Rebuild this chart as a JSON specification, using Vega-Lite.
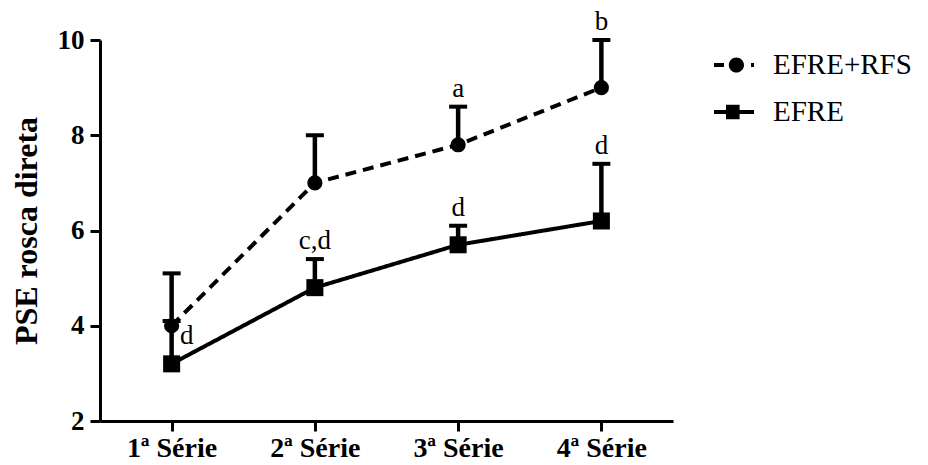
{
  "$schema": "https://vega.github.io/schema/vega-lite/v6.json",
  "autosize": "none",
  "width": 573,
  "height": 381,
  "padding": {"left": 100, "top": 40, "right": 255, "bottom": 44},
  "background": "white",
  "config": {
    "view": {"stroke": null},
    "legend": {"labelFont": "Liberation Serif"},
    "axis": {
      "grid": false,
      "domainColor": "black",
      "domainWidth": 3,
      "tickColor": "black",
      "tickWidth": 3,
      "tickSize": 10,
      "labelColor": "black",
      "labelFont": "Liberation Serif",
      "labelFontWeight": "bold",
      "titleColor": "black",
      "titleFont": "Liberation Serif",
      "titleFontWeight": "bold"
    }
  },
  "data": {
    "values": [
      {"serie": "EFRE+RFS", "cat": "1ª Série", "mean": 4.0, "upper": 5.1, "letter": ""},
      {"serie": "EFRE+RFS", "cat": "2ª Série", "mean": 7.0, "upper": 8.0, "letter": ""},
      {"serie": "EFRE+RFS", "cat": "3ª Série", "mean": 7.8, "upper": 8.6, "letter": "a"},
      {"serie": "EFRE+RFS", "cat": "4ª Série", "mean": 9.0, "upper": 10.0, "letter": "b"},
      {"serie": "EFRE", "cat": "1ª Série", "mean": 3.2, "upper": 4.1, "letter": "d"},
      {"serie": "EFRE", "cat": "2ª Série", "mean": 4.8, "upper": 5.4, "letter": "c,d"},
      {"serie": "EFRE", "cat": "3ª Série", "mean": 5.7, "upper": 6.1, "letter": "d"},
      {"serie": "EFRE", "cat": "4ª Série", "mean": 6.2, "upper": 7.4, "letter": "d"}
    ]
  },
  "encoding": {
    "x": {
      "field": "cat",
      "type": "ordinal",
      "sort": ["1ª Série", "2ª Série", "3ª Série", "4ª Série"],
      "scale": {"type": "point", "padding": 0.5},
      "axis": {"title": null, "labelAngle": 0, "labelFontSize": 28, "labelPadding": 3}
    }
  },
  "layer": [
    {
      "mark": {"type": "line", "strokeWidth": 4},
      "encoding": {
        "y": {
          "field": "mean",
          "type": "quantitative",
          "scale": {"domain": [2, 10], "nice": false, "zero": false},
          "axis": {"values": [2, 4, 6, 8, 10], "title": "PSE rosca direta", "titleFontSize": 32, "titlePadding": 14, "labelFontSize": 27, "labelPadding": 6}
        },
        "strokeDash": {
          "field": "serie",
          "type": "nominal",
          "scale": {"domain": ["EFRE+RFS", "EFRE"], "range": [[11, 7], [1, 0]]},
          "legend": null
        },
        "color": {
          "field": "serie",
          "type": "nominal",
          "scale": {"domain": ["EFRE+RFS", "EFRE"], "range": ["black", "black"]},
          "legend": {
            "title": null,
            "orient": "right",
            "offset": 36,
            "padding": 5,
            "symbolSize": 1600,
            "symbolStrokeWidth": 0,
            "symbolFillColor": "black",
            "symbolOpacity": 1,
            "labelFont": "Liberation Serif",
            "labelFontSize": 29,
            "labelColor": "black",
            "labelOffset": 19,
            "rowPadding": 12,
            "encode": {
              "symbols": {
                "update": {
                  "shape": {"signal": "datum.value === 'EFRE' ? 'M-1,-0.1H1V0.1H-1Z M-0.4,-0.36H0.28V0.36H-0.4Z' : 'M-1,-0.1H-0.5V0.1H-1Z M0.5,0A0.38,0.38 0 1,1 -0.26,0A0.38,0.38 0 1,1 0.5,0Z M0.85,-0.1H1V0.1H0.85Z'"},
                  "fill": {"value": "black"},
                  "fillOpacity": {"value": 1},
                  "strokeWidth": {"value": 0},
                  "opacity": {"value": 1}
                }
              },
              "labels": {
                "update": {
                  "font": {"value": "Liberation Serif"}
                }
              }
            }
          }
        }
      }
    },
    {
      "mark": {"type": "rule", "strokeWidth": 4.5, "color": "black"},
      "encoding": {
        "y": {"field": "mean", "type": "quantitative"},
        "y2": {"field": "upper"}
      }
    },
    {
      "mark": {"type": "tick", "orient": "horizontal", "size": 18, "thickness": 4, "color": "black", "opacity": 1},
      "encoding": {
        "y": {"field": "upper", "type": "quantitative"}
      }
    },
    {
      "transform": [{"filter": "datum.serie === 'EFRE+RFS'"}],
      "mark": {"type": "point", "shape": "circle", "size": 230, "filled": true, "opacity": 1, "color": "black"},
      "encoding": {
        "y": {"field": "mean", "type": "quantitative"}
      }
    },
    {
      "transform": [{"filter": "datum.serie === 'EFRE'"}],
      "mark": {"type": "point", "shape": "square", "size": 290, "filled": true, "opacity": 1, "color": "black"},
      "encoding": {
        "y": {"field": "mean", "type": "quantitative"}
      }
    },
    {
      "transform": [{"filter": "datum.letter !== '' && datum.cat !== '1ª Série'"}],
      "mark": {"type": "text", "font": "Liberation Serif", "fontSize": 27, "color": "black", "baseline": "alphabetic", "dy": -10},
      "encoding": {
        "y": {"field": "upper", "type": "quantitative"},
        "text": {"field": "letter"}
      }
    },
    {
      "transform": [{"filter": "datum.letter !== '' && datum.cat === '1ª Série'"}],
      "mark": {"type": "text", "font": "Liberation Serif", "fontSize": 27, "color": "black", "baseline": "alphabetic", "dx": 15, "dy": 23},
      "encoding": {
        "y": {"field": "upper", "type": "quantitative"},
        "text": {"field": "letter"}
      }
    }
  ]
}
